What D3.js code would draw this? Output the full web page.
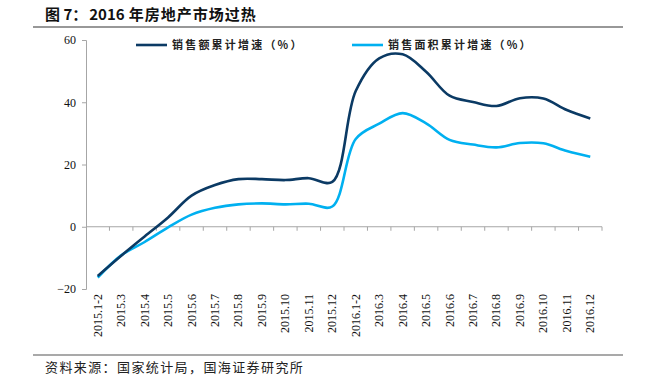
<!DOCTYPE html>
<html>
<head>
<meta charset="utf-8">
<script src="https://cdn.jsdelivr.net/npm/d3@7"></script>
<style>
  body { margin: 0; background: #fff; }
  svg { display: block; }
</style>
</head>
<body>
<svg width="652" height="380"></svg>
<script>
// month labels on the x axis
var months = ["2015.1-2","2015.3","2015.4","2015.5","2015.6","2015.7","2015.8","2015.9","2015.10","2015.11","2015.12",
              "2016.1-2","2016.3","2016.4","2016.5","2016.6","2016.7","2016.8","2016.9","2016.10","2016.11","2016.12"];
// 销售额累计增速
var salesAmount = [-15.8,-9.3,-3.1,3.0,10.0,13.4,15.3,15.3,15.0,15.6,14.4,
                   43.6,54.1,55.4,49.8,42.1,40.1,38.8,41.3,41.2,37.5,34.8];
// 销售面积累计增速
var salesArea = [-16.3,-9.2,-4.9,-0.2,3.9,6.1,7.2,7.5,7.2,7.4,6.5,
                 28.2,33.1,36.5,33.2,27.9,26.4,25.5,26.9,26.8,24.3,22.5];
var yTicks = [-20, 0, 20, 40, 60];
var seriesNames = ["销售额累计增速（%）", "销售面积累计增速（%）"];
var colors = ["#0b3a64", "#00b0f0"];

var svg = d3.select("svg");
var cjk = "'Noto Sans CJK SC', sans-serif";
var serif = "'Liberation Serif', 'Times New Roman', serif";

// title + rules
var title = svg.append("text")
    .attr("x", 45).attr("y", 20)
    .style("font-family", cjk).style("font-weight", "bold").style("font-size", "15px")
    .attr("fill", "#111");
title.append("tspan").text("图 7：");
title.append("tspan").attr("dx", 2).text("2016");
title.append("tspan").attr("dx", 4).style("letter-spacing", "1px").text("年房地产市场过热");
svg.append("line").attr("x1", 33).attr("x2", 623).attr("y1", 27).attr("y2", 27)
    .attr("stroke", "#333").attr("stroke-width", 1.2);
svg.append("line").attr("x1", 33).attr("x2", 623).attr("y1", 355).attr("y2", 355)
    .attr("stroke", "#555").attr("stroke-width", 1.2);
svg.append("text")
    .attr("x", 45).attr("y", 372)
    .style("font-family", cjk).style("font-size", "13px").style("letter-spacing", "1.4px")
    .attr("fill", "#222")
    .text("资料来源：国家统计局，国海证券研究所");

var x = d3.scaleBand().domain(months).range([86, 602]);
var y = d3.scaleLinear().domain([-20, 60]).range([289, 40]);

// y axis
var yAxis = svg.append("g").attr("transform", "translate(86,0)")
    .call(d3.axisLeft(y).tickValues(yTicks).tickSize(4).tickPadding(6));
yAxis.selectAll("path, line").attr("stroke", "#a6a6a6");
yAxis.selectAll("text").style("font-family", serif).style("font-size", "12px").attr("fill", "#111");

// x axis at zero, ticks at band edges
var xAxisG = svg.append("g").attr("transform", "translate(0," + y(0) + ")");
xAxisG.append("line").attr("x1", 86).attr("x2", 602).attr("stroke", "#a6a6a6");
xAxisG.selectAll("line.tk")
    .data(months)
    .enter().append("line")
    .attr("class", "tk")
    .attr("x1", function (d) { return x(d) + x.bandwidth(); })
    .attr("x2", function (d) { return x(d) + x.bandwidth(); })
    .attr("y1", 0).attr("y2", 4)
    .attr("stroke", "#a6a6a6");

// rotated month labels
svg.append("g").selectAll("text")
    .data(months)
    .enter().append("text")
    .attr("transform", function (d) {
        return "translate(" + (x(d) + x.bandwidth() / 2 + 4) + ",294) rotate(-90)";
    })
    .attr("text-anchor", "end")
    .style("font-family", serif).style("font-size", "12px")
    .attr("fill", "#111")
    .text(function (d) { return d; });

var line = d3.line()
    .x(function (d, i) { return x(months[i]) + x.bandwidth() / 2; })
    .y(function (d) { return y(d); })
    .curve(d3.curveCatmullRom.alpha(0.5));

[salesArea, salesAmount].forEach(function (s, k) {
    svg.append("path")
        .datum(s)
        .attr("fill", "none")
        .attr("stroke", colors[1 - k])
        .attr("stroke-width", 2.6)
        .attr("d", line);
});

// legend
var legendX = [136, 352];
seriesNames.forEach(function (name, i) {
    var g = svg.append("g").attr("transform", "translate(" + legendX[i] + ",45)");
    g.append("line").attr("x1", 0).attr("x2", 31)
        .attr("stroke", colors[i]).attr("stroke-width", 2.6);
    g.append("text").attr("x", 36).attr("y", 4)
        .style("font-family", cjk).style("font-size", "11px").style("font-weight", "bold")
        .style("letter-spacing", "2.2px")
        .attr("fill", "#222")
        .text(name);
});
</script>
</body>
</html>
